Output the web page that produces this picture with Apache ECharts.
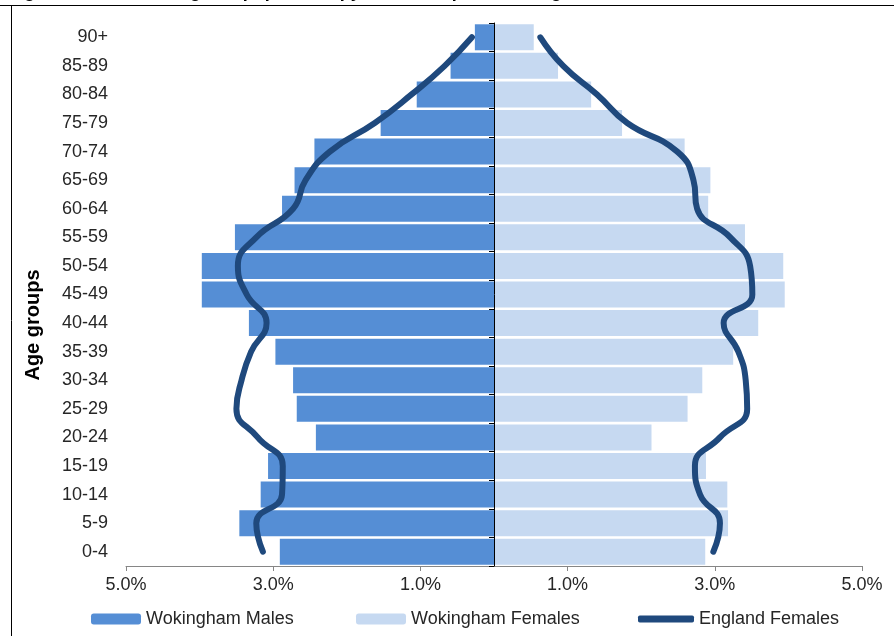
<!DOCTYPE html>
<html>
<head>
<meta charset="utf-8">
<title>Wokingham population pyramid</title>
<script src="https://cdn.jsdelivr.net/npm/echarts@6/dist/echarts.min.js"></script>
<style>
  html, body { margin: 0; padding: 0; background: #fff; }
  #chart { width: 894px; height: 636px; }
</style>
</head>
<body>
<div id="chart"></div>
<script>
// age bands, bottom to top
const ageGroups = ['0-4', '5-9', '10-14', '15-19', '20-24', '25-29', '30-34', '35-39', '40-44',
  '45-49', '50-54', '55-59', '60-64', '65-69', '70-74', '75-79', '80-84', '85-89', '90+'];

// % of population (males drawn to the left)
const wokinghamMales = [2.91, 3.46, 3.17, 3.07, 2.42, 2.68, 2.73, 2.97, 3.33,
  3.97, 3.97, 3.52, 2.88, 2.71, 2.44, 1.54, 1.05, 0.59, 0.26];
const wokinghamFemales = [2.87, 3.18, 3.17, 2.88, 2.14, 2.63, 2.83, 3.25, 3.59,
  3.95, 3.93, 3.41, 2.91, 2.94, 2.59, 1.74, 1.32, 0.87, 0.54];
const englandMales = [3.14, 3.23, 2.88, 2.87, 3.21, 3.50, 3.43, 3.30, 3.09,
  3.36, 3.48, 3.23, 2.73, 2.56, 2.23, 1.62, 1.12, 0.67, 0.30];
const englandFemales = [2.98, 3.07, 2.80, 2.73, 3.07, 3.44, 3.42, 3.32, 3.12,
  3.51, 3.48, 3.21, 2.76, 2.71, 2.49, 1.81, 1.40, 0.94, 0.63];

const xTicks = [-5, -3, -1, 1, 3, 5];

const FONT = 'Arial, "Liberation Sans", sans-serif';
const TEXT_COLOR = '#262626';

const chart = echarts.init(document.getElementById('chart'));

const legendText = { fontSize: 18, color: TEXT_COLOR, fontFamily: FONT };

const option = {
  animation: false,
  textStyle: { fontFamily: FONT },
  grid: { left: 126, right: 32, top: 23, bottom: 70 },
  legend: [
    {
      data: ['Wokingham Males'],
      left: 91, top: 610, padding: 0,
      itemWidth: 50, itemHeight: 11,
      textStyle: legendText
    },
    {
      data: ['Wokingham Females'],
      left: 356, top: 610, padding: 0,
      itemWidth: 50, itemHeight: 11,
      textStyle: legendText
    },
    {
      data: [{ name: 'England Females', icon: 'roundRect' }],
      left: 638, top: 610, padding: 0,
      itemWidth: 56, itemHeight: 7,
      textStyle: legendText
    }
  ],
  xAxis: {
    type: 'value',
    min: -5,
    max: 5,
    splitLine: { show: false },
    axisLine: { show: true, onZero: false, lineStyle: { color: '#868686', width: 1 } },
    axisTick: { show: true, customValues: xTicks, length: 5, lineStyle: { color: '#868686' } },
    axisLabel: {
      customValues: xTicks,
      formatter: v => Math.abs(v).toFixed(1) + '%',
      fontSize: 18,
      color: TEXT_COLOR,
      margin: 10
    }
  },
  yAxis: [
    {
      // centre line with ticks between bands
      type: 'category',
      data: ageGroups,
      position: 'left',
      z: 5,
      axisLine: { show: true, onZero: true, lineStyle: { color: '#000', width: 1 } },
      axisTick: { show: true, length: 5, lineStyle: { color: '#000' } },
      axisLabel: { show: false }
    },
    {
      // labels on the far left
      type: 'category',
      data: ageGroups,
      position: 'left',
      axisLine: { show: false, onZero: false },
      axisTick: { show: false },
      axisLabel: { fontSize: 18, color: TEXT_COLOR, margin: 18 }
    }
  ],
  series: [
    {
      name: 'Wokingham Males',
      type: 'bar',
      data: wokinghamMales.map(v => -v),
      barCategoryGap: '9%',
      barGap: '-100%',
      itemStyle: { color: '#558ED5' }
    },
    {
      name: 'Wokingham Females',
      type: 'bar',
      data: wokinghamFemales,
      barCategoryGap: '9%',
      barGap: '-100%',
      itemStyle: { color: '#C6D9F1' }
    },
    {
      name: 'England Males',
      type: 'line',
      data: englandMales.map(v => -v),
      smooth: 0.5,
      symbol: 'none',
      z: 4,
      lineStyle: { color: '#1F497D', width: 6, cap: 'round', join: 'round' }
    },
    {
      name: 'England Females',
      type: 'line',
      data: englandFemales,
      smooth: 0.5,
      symbol: 'none',
      z: 4,
      itemStyle: { color: '#1F497D' },
      lineStyle: { color: '#1F497D', width: 6, cap: 'round', join: 'round' }
    }
  ],
  graphic: [
    {
      type: 'text',
      x: 8, y: 1,
      style: {
        text: 'Figure 12: The Wokingham population pyramid compared to England',
        font: 'bold 18px ' + FONT,
        fill: '#000',
        verticalAlign: 'bottom', textVerticalAlign: 'bottom'
      }
    },
    {
      type: 'line',
      shape: { x1: 0, y1: 5.5, x2: 894, y2: 5.5 },
      style: { stroke: '#000', lineWidth: 1 }
    },
    {
      type: 'line',
      shape: { x1: 11.5, y1: 5, x2: 11.5, y2: 636 },
      style: { stroke: '#000', lineWidth: 1 }
    },
    {
      type: 'text',
      x: 33, y: 325,
      rotation: Math.PI / 2,
      style: {
        text: 'Age groups',
        font: 'bold 20px ' + FONT,
        fill: '#000',
        align: 'center', textAlign: 'center',
        verticalAlign: 'middle', textVerticalAlign: 'middle'
      }
    }
  ]
};

chart.setOption(option);
</script>
</body>
</html>
